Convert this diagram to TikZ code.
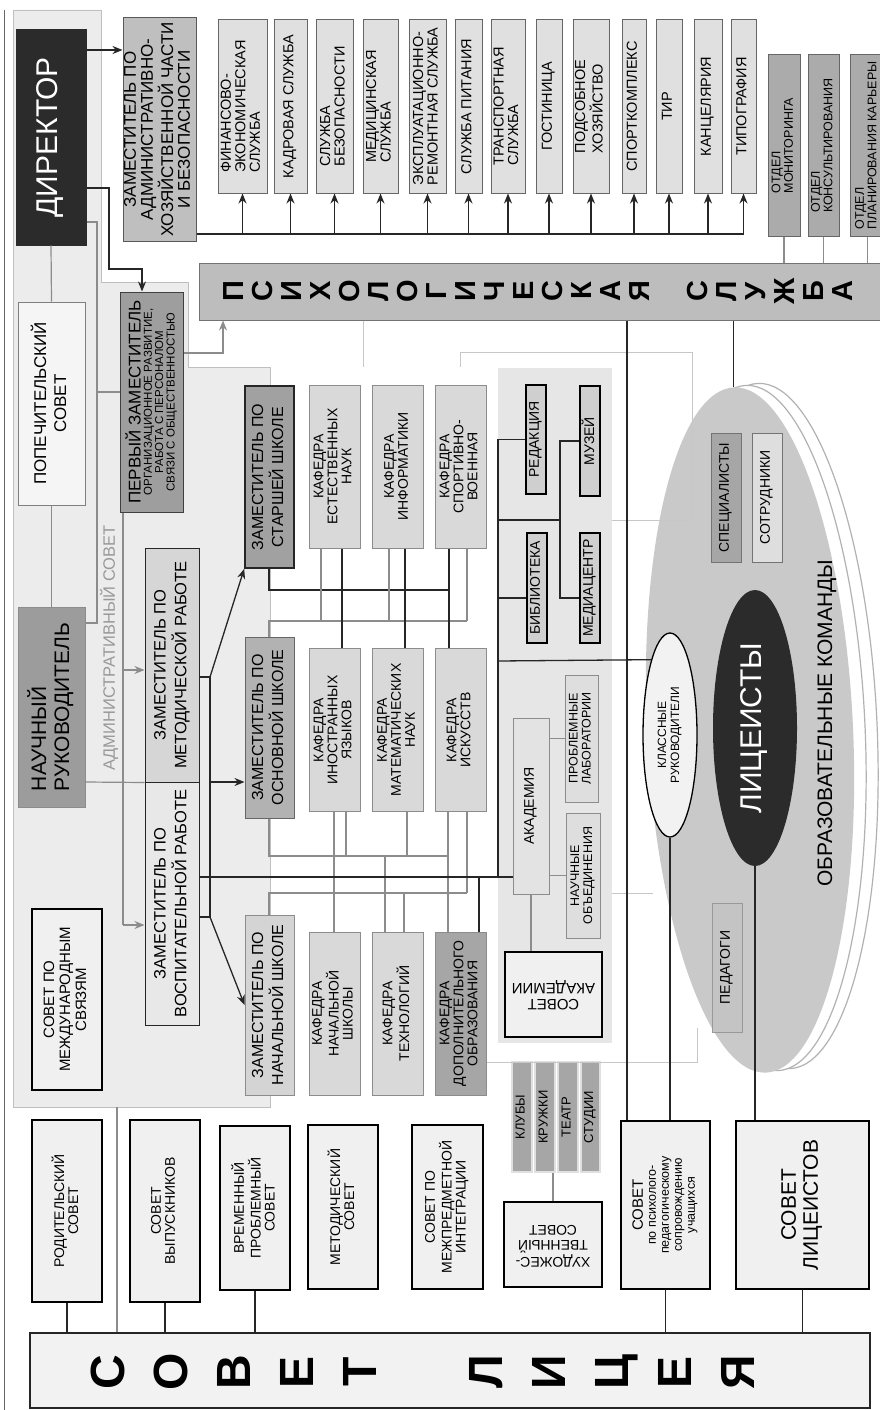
\documentclass[tikz,border=0pt]{standalone}
\usepackage{fontspec}
\setmainfont{Liberation Sans}
\usetikzlibrary{shapes.geometric,arrows.meta}

\definecolor{dirfill}{HTML}{2B2B2B}
\definecolor{panelgray}{HTML}{ECECEC}
\definecolor{libpanel}{HTML}{E6E6E6}
\definecolor{svcgray}{HTML}{E0E0E0}
\definecolor{midgray}{HTML}{9C9C9C}
\definecolor{psychgray}{HTML}{BDBDBD}
\definecolor{teamgray}{HTML}{C9C9C9}

\newcommand{\vtxt}[1]{\rotatebox{90}{\begin{tabular}{@{}c@{}}#1\end{tabular}}}
\newcommand{\vtxl}[1]{\rotatebox{90}{\begin{tabular}{@{}l@{}}#1\end{tabular}}}
\newcommand{\vtxd}[1]{\rotatebox{180}{\begin{tabular}{@{}c@{}}#1\end{tabular}}}

\begin{document}
\begin{tikzpicture}[
    x=1pt, y=-1pt,
    bx/.style={rectangle, inner sep=0pt, line width=1pt, draw=black!55},
    wh/.style 2 args={minimum width=#1, minimum height=#2},
    fz/.style={font=\fontsize{#1}{#1}\selectfont},
    fzz/.style 2 args={font=\fontsize{#1}{#2}\selectfont},
    svc/.style={bx, fill=svcgray, draw=black!60, minimum width=#1, minimum height=173, fz=14.5},
    otd/.style={bx, fill=black!33, draw=black!60, minimum width=#1, minimum height=181, fz=12.5},
    kaf/.style={bx, fill=black!15, draw=black!45, minimum width=51, minimum height=163, fz=14},
    zam/.style={bx, draw=black!85, minimum width=49, minimum height=181, fzz={16}{18}},
    lib/.style={bx, fill=libpanel!90!black, draw=black, line width=1.6pt, minimum width=20, minimum height=110, fz=14},
    sov/.style={bx, fill=black!6, draw=black, line width=1.6pt, fz=14},
    strip/.style={bx, fill=black!35, draw=black!12, line width=1.5pt, minimum width=20, minimum height=110, fz=13},
    con/.style={line width=1.3pt, black!85},
    gcon/.style={line width=1.2pt, black!45},
    lcon/.style={line width=1pt, black!22},
    arr/.style={con, ->, >={Stealth[length=10pt,width=8pt]}},
    garr/.style={gcon, ->, >={Stealth[length=10pt,width=8pt]}}
]
\useasboundingbox (0,0) rectangle (879,1410);
\fill[white] (0,0) rectangle (879,1410);

%% Фон
\draw[black!60, line width=1pt] (4,10) -- (4,1410);
\filldraw[fill=panelgray, draw=black!25] (13,10) -- (101,10) -- (101,282) -- (188,282) -- (188,367)
    -- (270,367) -- (270,1107) -- (13,1107) -- cycle;
\fill[libpanel] (498,368) rectangle (612,1043);

%% Дирекция
\node[bx, fill=dirfill, draw=dirfill, wh={70}{215}, text=white, fz=30] (dir) at (51,137.5) {\vtxt{ДИРЕКТОР}};
\node[bx, fill=black!25, draw=black!65, wh={73}{223}, fzz={17}{16.5}] (zamahch) at (159.5,129.5)
    {\vtxt{ЗАМЕСТИТЕЛЬ ПО\\АДМИНИСТРАТИВНО-\\ХОЗЯЙСТВЕННОЙ ЧАСТИ\\И БЕЗОПАСНОСТИ}};

%% Службы
\node[svc=49] (fin)   at (242.5,106.5) {\vtxl{ФИНАНСОВО-\\ЭКОНОМИЧЕСКАЯ\\СЛУЖБА}};
\node[svc=33] (kadr)  at (290.5,106.5) {\vtxl{КАДРОВАЯ СЛУЖБА}};
\node[svc=37] (bez)   at (334.5,106.5) {\vtxl{СЛУЖБА\\БЕЗОПАСНОСТИ}};
\node[svc=35] (med)   at (380.5,106.5) {\vtxl{МЕДИЦИНСКАЯ\\СЛУЖБА}};
\node[svc=37] (expl)  at (427.5,106.5) {\vtxl{ЭКСПЛУАТАЦИОННО-\\РЕМОНТНАЯ СЛУЖБА}};
\node[svc=27] (pit)   at (468.5,106.5) {\vtxl{СЛУЖБА ПИТАНИЯ}};
\node[svc=34] (trans) at (508,106.5)   {\vtxl{ТРАНСПОРТНАЯ\\СЛУЖБА}};
\node[svc=26] (gost)  at (549,106.5)   {\vtxl{ГОСТИНИЦА}};
\node[svc=36] (pods)  at (591,106.5)   {\vtxl{ПОДСОБНОЕ\\ХОЗЯЙСТВО}};
\node[svc=24] (sport) at (634,106.5)   {\vtxl{СПОРТКОМПЛЕКС}};
\node[svc=26] (tir)   at (669,106.5)   {\vtxl{ТИР}};
\node[svc=28] (kanc)  at (708,106.5)   {\vtxl{КАНЦЕЛЯРИЯ}};
\node[svc=25] (tip)   at (743.5,106.5) {\vtxl{ТИПОГРАФИЯ}};

\draw[arr] (dir.east |- 0,50) -- (zamahch.west |- 0,50);
\draw[con] (zamahch.east |- 0,234) -- (tip.south |- 0,234);
\foreach \s in {fin,kadr,bez,med,expl,pit,trans,gost,pods,sport,tir,kanc,tip}
    \draw[arr] (\s.south |- 0,234) -- (\s.south);

%% Психологическая служба
\node[bx, fill=psychgray, draw=black!55, wh={686}{57}] (psych) at (542,291.5) {};
\node[font=\bfseries\fontsize{29}{29}\selectfont] (psychtxt) at (542,291)
    {\vtxt{П\\С\\И\\Х\\О\\Л\\О\\Г\\И\\Ч\\Е\\С\\К\\А\\Я\\ \\С\\Л\\У\\Ж\\Б\\А}};
\node[otd=32] (otdmon)  at (784,145.5)   {\vtxl{ОТДЕЛ\\МОНИТОРИНГА}};
\node[otd=31] (otdkons) at (823.5,145.5) {\vtxl{ОТДЕЛ\\КОНСУЛЬТИРОВАНИЯ}};
\node[otd=35] (otdplan) at (867.5,145.5) {\vtxl{ОТДЕЛ\\ПЛАНИРОВАНИЯ КАРЬЕРЫ}};
\foreach \n in {otdmon,otdkons,otdplan}
    \draw[gcon] (\n.south) -- (\n.south |- psych.north);

%% Левая колонка
\node[bx, fill=black!4, draw=black!50, wh={67}{203}, fzz={17}{20}] (popech) at (51.5,403.5)
    {\vtxt{ПОПЕЧИТЕЛЬСКИЙ\\СОВЕТ}};
\node[bx, fill=midgray, draw=black!45, wh={67}{200}, fzz={21}{23}] (nauch) at (51.5,707)
    {\vtxl{НАУЧНЫЙ\\РУКОВОДИТЕЛЬ}};
\node[sov, wh={70}{181}, fzz={15}{16}] (mezhd) at (67,999.5) {\vtxt{СОВЕТ ПО\\МЕЖДУНАРОДНЫМ\\СВЯЗЯМ}};
\node[text=black!40, fz=16.5] (adm) at (110,648) {\vtxt{АДМИНИСТРАТИВНЫЙ СОВЕТ}};

%% Заместители
\node[bx, fill=black!38, draw=black!75, wh={63}{220}, fzz={11.5}{11}] (perv) at (151.5,402)
    {\vtxt{{\fontsize{17}{17}\selectfont ПЕРВЫЙ ЗАМЕСТИТЕЛЬ}\\ОРГАНИЗАЦИОННОЕ РАЗВИТИЕ,\\РАБОТА С ПЕРСОНАЛОМ\\СВЯЗИ С ОБЩЕСТВЕННОСТЬЮ}};
\node[bx, fill=black!16, draw=black!85, wh={54}{234}, fzz={16.5}{20}] (zammet) at (172,665)
    {\vtxt{ЗАМЕСТИТЕЛЬ ПО\\МЕТОДИЧЕСКОЙ РАБОТЕ}};
\node[bx, fill=black!9, draw=black!85, wh={54}{243}, fzz={16.5}{20}] (zamvosp) at (172,903.5)
    {\vtxt{ЗАМЕСТИТЕЛЬ ПО\\ВОСПИТАТЕЛЬНОЙ РАБОТЕ}};
\node[zam, fill=black!37, line width=1.6pt, minimum height=182] (zst) at (269.5,477)
    {\vtxt{ЗАМЕСТИТЕЛЬ ПО\\СТАРШЕЙ ШКОЛЕ}};
\node[zam, fill=black!30, draw=black!60] (zosn) at (269.5,727.5) {\vtxt{ЗАМЕСТИТЕЛЬ ПО\\ОСНОВНОЙ ШКОЛЕ}};
\node[zam, fill=black!17, draw=black!45, minimum height=180] (znach) at (269.5,1005)
    {\vtxt{ЗАМЕСТИТЕЛЬ ПО\\НАЧАЛЬНОЙ ШКОЛЕ}};

\draw[arr] (dir.east |- 0,188) -- (109,188) -- (109,269) -- (142,269) -- (perv.north -| 142,0);
\draw[gcon] (dir.east |- 0,222) -- (97,222) -- (97,623) -- (nauch.east |- 0,623);
\draw[gcon] (dir.south) -- (popech.north);
\draw[gcon] (popech.south) -- (nauch.north);
\draw[gcon] (97,392) -- (perv.west |- 0,392);
\draw[gcon] (nauch.east |- 0,782) -- (zammet.south west);
\draw[gcon] (perv.south -| 123,0) -- (123,925);
\draw[garr] (123,670) -- (zammet.west |- 0,670);
\draw[garr] (123,925) -- (zamvosp.west |- 0,925);
\draw[garr] (perv.east |- 0,353) -- (223,353) -- (psych.south -| 223,0);

\draw[con] (zammet.east |- 0,677) -- (210,677) -- (210,917) -- (zamvosp.east |- 0,917);
\draw[arr] (210,677) -- (zst.south west);
\draw[arr] (210,782) -- (zosn.west |- 0,782);
\draw[arr] (210,917) -- (znach.west);

%% Кафедры
\node[kaf] (kest)   at (334.5,466.5) {\vtxt{КАФЕДРА\\ЕСТЕСТВЕННЫХ\\НАУК}};
\node[kaf] (kinf)   at (398,466.5)   {\vtxt{КАФЕДРА\\ИНФОРМАТИКИ}};
\node[kaf] (ksport) at (460.5,466.5) {\vtxt{КАФЕДРА\\СПОРТИВНО-\\ВОЕННАЯ}};
\node[kaf] (kino)   at (334.5,730)   {\vtxt{КАФЕДРА\\ИНОСТРАННЫХ\\ЯЗЫКОВ}};
\node[kaf] (kmat)   at (398,730)     {\vtxt{КАФЕДРА\\МАТЕМАТИЧЕСКИХ\\НАУК}};
\node[kaf] (kisk)   at (460.5,730)   {\vtxt{КАФЕДРА\\ИСКУССТВ}};
\node[kaf] (knach)  at (334.5,1013.5) {\vtxt{КАФЕДРА\\НАЧАЛЬНОЙ\\ШКОЛЫ}};
\node[kaf] (ktech)  at (398,1013.5)   {\vtxt{КАФЕДРА\\ТЕХНОЛОГИЙ}};
\node[kaf, fill=black!35] (kdop) at (460.5,1013.5) {\vtxt{КАФЕДРА\\ДОПОЛНИТЕЛЬНОГО\\ОБРАЗОВАНИЯ}};

\draw[con] (zst.south -| 269,0) -- (269,590) -- (449,590);
\draw[gcon] (zosn.north -| 269,0) -- (269,621) -- (467,621);
\draw[gcon] (kest.south -| 321,0) -- (321,621);
\draw[gcon] (kinf.south -| 389,0) -- (389,621);
\draw[gcon] (ksport.south -| 467,0) -- (467,621);
\draw[con] (kest.south -| 342,0) -- (kino.north -| 342,0);
\draw[con] (kinf.south -| 405,0) -- (kmat.north -| 405,0);
\draw[con] (ksport.south -| 449,0) -- (kisk.north -| 449,0);
\draw[gcon] (zosn.south -| 269,0) -- (269,856) -- (448,856);
\draw[gcon] (znach.north -| 269,0) -- (269,893) -- (467,893);
\draw[gcon] (kino.south -| 334,0) -- (knach.north -| 334,0);
\draw[gcon] (kino.south -| 346,0) -- (346,856);
\draw[gcon] (kmat.south -| 407,0) -- (407,856);
\draw[gcon] (385,856) -- (ktech.north -| 385,0);
\draw[gcon] (404,893) -- (ktech.north -| 404,0);
\draw[gcon] (kisk.south -| 448,0) -- (kdop.north -| 448,0);
\draw[gcon] (kisk.south -| 467,0) -- (467,893);

%% Библиотека, академия
\node[lib, minimum height=109] (red) at (536,439.5) {\vtxt{РЕДАКЦИЯ}};
\node[lib] (bib) at (537,588) {\vtxt{БИБЛИОТЕКА}};
\node[lib] (muz) at (590,441) {\vtxt{МУЗЕЙ}};
\node[lib] (med2) at (590,588) {\vtxt{МЕДИАЦЕНТР}};
\node[bx, fill=black!11, draw=black!45, wh={36}{176}, fz=14] (akad) at (531,806) {\vtxt{АКАДЕМИЯ}};
\node[bx, fill=black!13, draw=black!45, wh={33}{127}, fzz={12.5}{13}] (probl) at (581.5,738.5)
    {\vtxt{ПРОБЛЕМНЫЕ\\ЛАБОРАТОРИИ}};
\node[bx, fill=black!13, draw=black!45, wh={34}{125}, fzz={12.5}{13}] (nob) at (583,875.5)
    {\vtxt{НАУЧНЫЕ\\ОБЪЕДИНЕНИЯ}};
\node[sov, wh={97}{85}, fzz={15}{16}] (sovak) at (553.5,994.5) {\vtxd{СОВЕТ\\АКАДЕМИИ}};

\draw[con] (red.west) -- (498,439.5) -- (498,877);
\draw[con] (498,598) -- (bib.west |- 0,598);
\draw[con] (498,520) -- (560,520);
\draw[con] (muz.west) -- (560,441) -- (560,598) -- (med2.west |- 0,598);
\draw[con] (zamvosp.east |- 0,877) -- (akad.west |- 0,877);
\draw[con] (479,877) -- (kdop.north -| 479,0);
\draw[gcon] (akad.east |- probl.west) -- (probl.west);
\draw[gcon] (akad.east |- nob.west) -- (nob.west);
\draw[gcon] (akad.south) -- (akad.south |- sovak.north);

%% Кружки
\node[strip] (klub)  at (522,1117)   {\vtxt{КЛУБЫ}};
\node[strip] (kruzh) at (545,1117)   {\vtxt{КРУЖКИ}};
\node[strip] (teatr) at (568,1117)   {\vtxt{ТЕАТР}};
\node[strip, minimum width=19] (stud) at (590.5,1117) {\vtxt{СТУДИИ}};
\node[sov, wh={98}{85}, fzz={14}{15}] (hud) at (553,1244.5) {\vtxd{ХУДОЖЕС-\\ТВЕННЫЙ\\СОВЕТ}};
\draw[gcon] (kruzh.south -| hud.north) -- (hud.north);

%% Образовательные команды
\draw[black!30, line width=1.2pt, fill=white, rotate around={2.7:(774,726)}] (774,726) ellipse (103 and 343);
\draw[black!30, line width=1.2pt, fill=white, rotate around={2.7:(762,728)}] (762,728) ellipse (103 and 343);
\node[ellipse, fill=teamgray, inner sep=0pt, minimum width=206, minimum height=686, rotate=2.7] (teams) at (750,730) {};
\node[bx, fill=black!35, draw=black!55, wh={30}{129}, fz=14] (spec) at (726,497.5) {\vtxt{СПЕЦИАЛИСТЫ}};
\node[bx, fill=black!13, draw=black!55, wh={30}{129}, fz=14] (sotr) at (767,497.5) {\vtxt{СОТРУДНИКИ}};
\node[ellipse, fill=dirfill, inner sep=0pt, minimum width=84, minimum height=276, text=white, fz=30] (lic)
    at (755,728) {\vtxt{ЛИЦЕИСТЫ}};
\node[ellipse, fill=black!5, draw=black, line width=1.3pt, inner sep=0pt, minimum width=54, minimum height=204,
    fzz={12}{13}] (klass) at (670,735) {\vtxt{КЛАССНЫЕ\\РУКОВОДИТЕЛИ}};
\node[bx, fill=black!23, draw=black!40, wh={30}{129}, fz=14] (ped) at (727,967.5) {\vtxt{ПЕДАГОГИ}};
\node[fz=21] (teamlbl) at (828,723) {\vtxt{ОБРАЗОВАТЕЛЬНЫЕ КОМАНДЫ}};

\draw[con] (psych.south -| teams.north) -- (teams.north);
\draw[con] (498,661) -- (klass.104);
\draw[lcon] (psych.south -| 363,0) -- (363,367);
\draw[lcon] (460,367) -- (460,352) -- (692,352) -- (692,520) -- (612,520);
\draw[lcon] (612,893) -- (653,893);
\draw[lcon] (kdop.east |- 0,1062) -- (697,1062) -- (697,1028);

%% Советы
\node[sov, wh={70}{182}] (rod)    at (67,1211)    {\vtxt{РОДИТЕЛЬСКИЙ\\СОВЕТ}};
\node[sov, wh={70}{182}] (vyp)    at (165,1211)   {\vtxt{СОВЕТ\\ВЫПУСКНИКОВ}};
\node[sov, wh={70}{164}] (vrem)   at (255,1208)   {\vtxt{ВРЕМЕННЫЙ\\ПРОБЛЕМНЫЙ\\СОВЕТ}};
\node[sov, wh={70}{164}] (metsov) at (343,1207)   {\vtxt{МЕТОДИЧЕСКИЙ\\СОВЕТ}};
\node[sov, wh={71}{164}] (mezhpr) at (447.5,1207) {\vtxt{СОВЕТ ПО\\МЕЖПРЕДМЕТНОЙ\\ИНТЕГРАЦИИ}};
\node[sov, wh={89}{168}, fzz={12.5}{13}] (sovpp) at (665.5,1205)
    {\vtxt{{\fontsize{15}{15}\selectfont СОВЕТ}\\по психолого-\\педагогическому\\сопровождению\\учащихся}};
\node[sov, wh={133}{168}, fzz={21}{22}] (sovlic) at (802.5,1205) {\vtxt{СОВЕТ\\ЛИЦЕИСТОВ}};

\node[bx, fill=black!5, draw=black!85, line width=1.3pt, wh={840}{75}] (sovlicea) at (450,1370.5) {};
\node[font=\bfseries\fontsize{48}{63}\selectfont] (sovtxt) at (427,1372)
    {\vtxt{С\\О\\В\\Е\\Т\\ \\Л\\И\\Ц\\Е\\Я}};

\draw[con] (psych.south -| 627,0) -- (sovpp.north -| 627,0);
\draw[con] (klass.south) -- (klass.south |- sovpp.north);
\draw[con] (lic.south) -- (lic.south |- sovlic.north);
\foreach \n in {rod,vyp,vrem,sovpp,sovlic}
    \draw[con] (\n.south) -- (\n.south |- sovlicea.north);
\draw[gcon] (117,1107) -- (sovlicea.north -| 117,0);

\end{tikzpicture}
\end{document}
